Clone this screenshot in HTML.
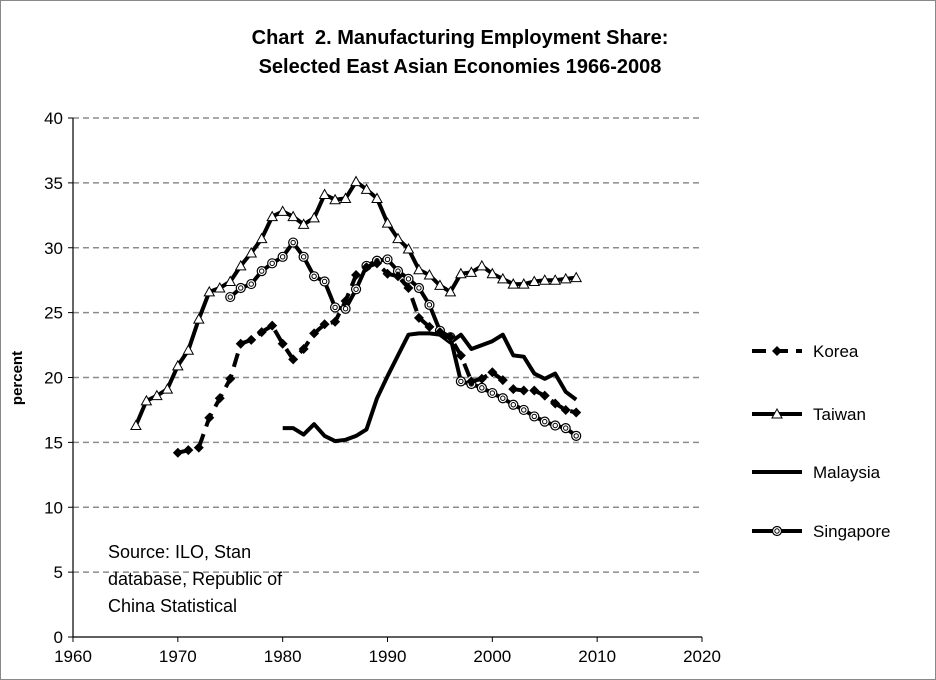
<!DOCTYPE html>
<html><head><meta charset="utf-8"><style>
body{margin:0;background:#fff}
svg{display:block;font-family:"Liberation Sans",Arial,sans-serif}
</style></head><body>
<svg id="c" width="936" height="680">
<rect x="0.5" y="0.5" width="935" height="679" fill="#fff" stroke="#888"/>
<text x="460" y="44" text-anchor="middle" font-size="20" font-weight="bold">Chart &#160;2. Manufacturing Employment Share:</text>
<text x="460" y="73" text-anchor="middle" font-size="20" font-weight="bold">Selected East Asian Economies 1966-2008</text>
<text transform="translate(22,378) rotate(-90)" text-anchor="middle" font-size="15" font-weight="bold">percent</text>
<g id="grid"></g><g id="axes"></g><g id="series"></g><g id="legend"></g>
<text font-size="18"><tspan x="108" y="558">Source: ILO, Stan</tspan><tspan x="108" y="585">database, Republic of</tspan><tspan x="108" y="612">China Statistical</tspan></text>
</svg>
<script>
const xTicks=[1960,1970,1980,1990,2000,2010,2020];
const yTicks=[0,5,10,15,20,25,30,35,40];
const taiwanYears=[1966,2008];
const taiwan=[16.3,18.2,18.6,19.1,20.9,22.1,24.5,26.6,26.9,27.4,28.6,29.6,30.7,32.4,32.8,32.4,31.8,32.3,34.1,33.7,33.8,35.1,34.5,33.8,31.9,30.7,29.9,28.3,27.9,27.1,26.6,28.0,28.1,28.6,28.0,27.6,27.2,27.2,27.4,27.5,27.5,27.6,27.7];
const koreaStart=1970;
const korea=[14.2,14.4,14.6,16.9,18.4,19.9,22.6,22.9,23.5,24.0,22.6,21.4,22.2,23.4,24.1,24.3,25.9,27.9,28.5,28.8,28.0,27.8,26.9,24.6,23.9,23.5,23.1,21.7,19.7,19.9,20.4,19.8,19.1,19.0,19.0,18.6,18.0,17.5,17.3];
const malaysiaStart=1980;
const malaysia=[16.1,16.1,15.6,16.4,15.5,15.1,15.2,15.5,16.0,18.4,20.1,21.7,23.3,23.4,23.4,23.3,22.7,23.3,22.2,22.5,22.8,23.3,21.7,21.6,20.3,19.9,20.3,18.9,18.3];
const singaporeStart=1975;
const singapore=[26.2,26.9,27.2,28.2,28.8,29.3,30.4,29.3,27.8,27.4,25.4,25.3,26.8,28.6,29.0,29.1,28.2,27.6,26.9,25.6,23.6,23.1,19.7,19.5,19.2,18.8,18.4,17.9,17.5,17.0,16.6,16.3,16.1,15.5];
const taiwanStart=taiwanYears[0];

const L=73,R=702,T=118,B=637;
const X=y=>L+(y-1960)/60*(R-L);
const Y=v=>B-v/40*(B-T);
const NS="http://www.w3.org/2000/svg";
function mk(tag,attrs,parent){const e=document.createElementNS(NS,tag);for(const k in attrs)e.setAttribute(k,attrs[k]);parent.appendChild(e);return e;}
const grid=document.getElementById('grid'),axes=document.getElementById('axes'),ser=document.getElementById('series'),leg=document.getElementById('legend');
yTicks.forEach(v=>{
  if(v>0){const g=mk('line',{x1:L,x2:R,y1:Y(v),y2:Y(v),stroke:'#8c8c8c','stroke-width':1.5,'stroke-dasharray':'6,4'},grid);
  
  }
  const t=mk('text',{x:L-10,y:Y(v)+6,'text-anchor':'end','font-size':17},axes);t.textContent=v;
  
  
  mk('line',{x1:L-5,x2:L,y1:Y(v),y2:Y(v),stroke:'#000'},axes);
});
xTicks.forEach(v=>{
  const t=mk('text',{x:X(v),y:B+25,'text-anchor':'middle','font-size':17},axes);t.textContent=v;
  
  
  mk('line',{x1:X(v),x2:X(v),y1:B,y2:B+5,stroke:'#000'},axes);
});
const ax=mk('path',{d:`M${L},${T}V${B}H${R}`,fill:'none',stroke:'#000','stroke-width':1.2},axes);



function marker(type,x,y,g){
  if(type==='diamond')mk('path',{d:`M${x},${y-5}L${x+5},${y}L${x},${y+5}L${x-5},${y}Z`,fill:'#000'},g);
  else if(type==='tri')mk('path',{d:`M${x},${y-5}L${x+5},${y+4}L${x-5},${y+4}Z`,fill:'#fff',stroke:'#000','stroke-width':1},g);
  else if(type==='circ'){mk('circle',{cx:x,cy:y,r:4.5,fill:'#fff',stroke:'#000','stroke-width':1.2},g);mk('circle',{cx:x,cy:y,r:2.2,fill:'none',stroke:'#000','stroke-width':1},g);}
}
function series(name,start,vals,dash,m){
  const g=mk('g',{},ser);
  
  
  const d=vals.map((v,i)=>(i?'L':'M')+X(start+i).toFixed(1)+','+Y(v).toFixed(1)).join('');
  mk('path',{d,fill:'none',stroke:'#000','stroke-width':4,'stroke-dasharray':dash||'none','stroke-linejoin':'round'},g);
  if(m)vals.forEach((v,i)=>marker(m,X(start+i),Y(v),g));
}
series('taiwan',taiwanStart,taiwan,null,'tri');
series('malaysia',malaysiaStart,malaysia,null,null);
series('singapore',singaporeStart,singapore,null,'circ');
series('korea',koreaStart,korea,'14,8','diamond');

const legItems=[['Korea','14,8','diamond',351],['Taiwan',null,'tri',414],['Malaysia',null,null,472],['Singapore',null,'circ',531]];
legItems.forEach(([n,dash,m,y])=>{
  const g=mk('g',{},leg);
  
  
  mk('line',{x1:752,x2:802,y1:y,y2:y,stroke:'#000','stroke-width':4,'stroke-dasharray':dash||'none'},g);
  if(m)marker(m,777,y,g);
  const t=mk('text',{x:813,y:y+6,'font-size':17},g);t.textContent=n;
});
</script>
</body></html>
